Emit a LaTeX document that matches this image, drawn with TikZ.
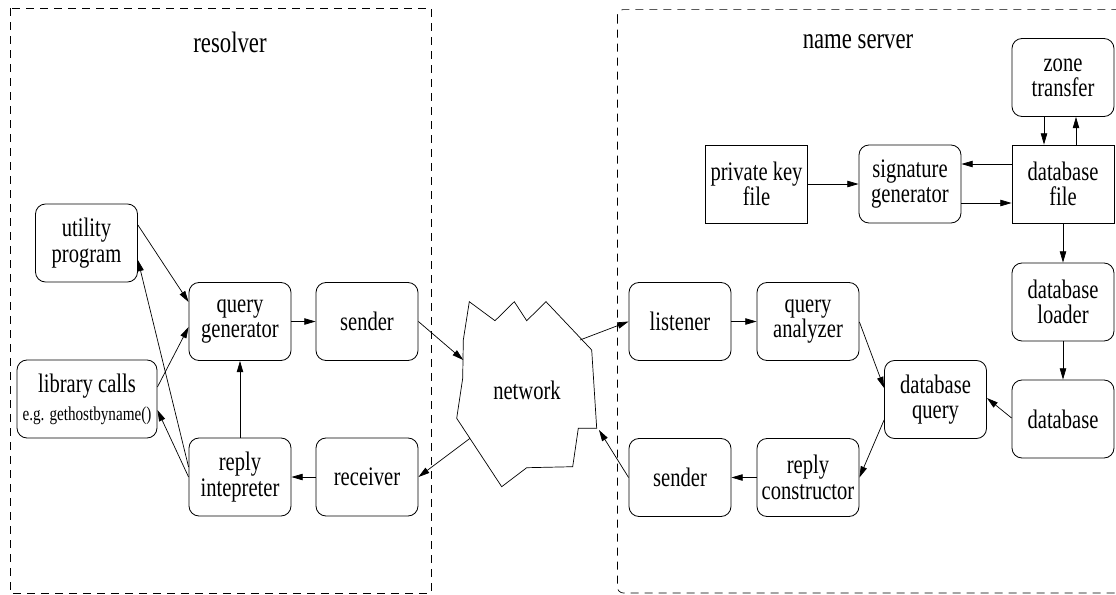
\documentclass[tikz,border=0pt]{standalone}
\usepackage{fontspec}
\setmainfont[FakeStretch=0.77]{Liberation Serif}
\usetikzlibrary{arrows.meta}

\begin{document}
\begin{tikzpicture}
  [x=0.25mm, y=-0.25mm,
   main node/.style={draw, rounded corners=2.5mm, line width=0.6pt,
     minimum width=25.5mm, minimum height=19.5mm, inner sep=1pt,
     align=center, font=\fontsize{19}{18}\selectfont},
   file node/.style={main node, sharp corners},
   area/.style={draw, line width=0.5pt, dash pattern=on 2mm off 1.5mm},
   title/.style={font=\fontsize{21}{21}\selectfont},
   flow/.style={-{Triangle[length=2.8mm,width=1.6mm]}, line width=0.5pt}]
  \useasboundingbox (0,0) rectangle (1116,594);

  % the two sides
  \path[area] (10,8) rectangle (431,593);
  \path[area, rounded corners=1.5mm] (617.4,9.6) rectangle (1125,593);
  \node[title] (reslabel) at (230,42) {resolver};
  \node[title] (nslabel) at (858,42) {name server};

  % resolver
  \node[main node] (util) at (86.5,243) {utility\\program};
  \node[main node, minimum width=35mm] (lib) at (87,399)
    {library calls\\[2pt]{\fontsize{14}{14}\selectfont e.g. gethostbyname()}};
  \node[main node] (qgen) at (240,321.5) {query\\generator};
  \node[main node] (rsend) at (367,321.5) {sender};
  \node[main node] (rint) at (240,477) {reply\\intepreter};
  \node[main node] (recv) at (367,477) {receiver};

  % network
  \draw[line width=0.5pt] (469.3,301.7) -- (495,320.7) -- (514.3,301.7)
    -- (526.7,320.7) -- (546,301.7) -- (591.7,350) -- (596.7,428.3)
    -- (578.3,428.3) -- (572.7,466.7) -- (526.7,467.7) -- (501.7,486.7)
    -- (456.7,418.3) -- (462.7,378.3) -- (463.3,340) -- cycle;
  \node[font=\fontsize{19}{18}\selectfont] (net) at (527,390) {network};
  \coordinate (netin) at (463.3,360);
  \coordinate (netout) at (470,438.3);
  \coordinate (netfwd) at (580,340);
  \coordinate (netback) at (599,430);

  % name server
  \node[file node] (pkey) at (756.5,184) {private key\\file};
  \node[main node] (sig) at (910,184) {signature\\generator};
  \node[file node] (dbfile) at (1063,184) {database\\file};
  \node[main node] (zone) at (1063,77.5) {zone\\transfer};
  \node[main node] (loader) at (1063,302) {database\\loader};
  \node[main node] (db) at (1063,419) {database};
  \node[main node] (listen) at (680,321.5) {listener};
  \node[main node] (qana) at (808,321.5) {query\\analyzer};
  \node[main node] (dbq) at (935.5,399.5) {database\\query};
  \node[main node] (nsend) at (680,477.5) {sender};
  \node[main node] (rcon) at (808,477.5) {reply\\constructor};

  \path[] (util.east |- 0,225) [flow] edge (qgen.west |- 0,302);
  \path[] (lib.east |- 0,387) [flow] edge (qgen.west |- 0,327);
  \path[] (rint.west |- 0,477) [flow] edge (lib.east |- 0,410);
  \path[] (rint.west |- 0,467) [flow] edge (util.east |- 0,260);
  \path[] (rint) [flow] edge (qgen);
  \path[] (qgen) [flow] edge (rsend);
  \path[] (recv) [flow] edge (rint);
  \path[] (rsend.east) [flow] edge (netin);
  \path[] (netout) [flow] edge (recv.east);
  \path[] (netfwd) [flow] edge (listen.west);
  \path[] (nsend.west) [flow] edge (netback);

  \path[] (listen) [flow] edge (qana);
  \path[] (qana.east |- 0,322) [flow] edge (dbq.west |- 0,388);
  \path[] (dbq.west |- 0,420) [flow] edge (rcon.east);
  \path[] (rcon) [flow] edge (nsend);
  \path[] (db.west |- 0,418) [flow] edge (dbq.east |- 0,398);
  \path[] (loader) [flow] edge (db);
  \path[] (dbfile) [flow] edge (loader);
  \path[] (zone.south -| 1044,0) [flow] edge (dbfile.north -| 1044,0);
  \path[] (dbfile.north -| 1076,0) [flow] edge (zone.south -| 1076,0);
  \path[] (pkey) [flow] edge (sig);
  \path[] (dbfile.west |- 0,164) [flow] edge (sig.east |- 0,164);
  \path[] (sig.east |- 0,203) [flow] edge (dbfile.west |- 0,203);
\end{tikzpicture}
\end{document}
